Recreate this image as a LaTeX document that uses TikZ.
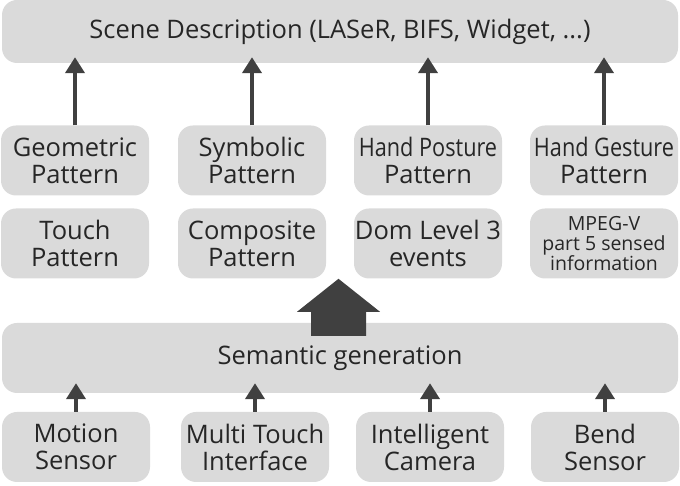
\documentclass[tikz,border=0pt]{standalone}
\usepackage{fontspec}
\usepackage{graphicx}
\setmainfont{Open Sans}
\usetikzlibrary{arrows.meta,positioning,calc}
\definecolor{cBox}{HTML}{dadada}
\definecolor{cArr}{HTML}{404040}
\definecolor{cTxt}{HTML}{262626}
\tikzset{
  bar/.style={rounded corners=15pt,fill=cBox,minimum width=676pt,inner sep=0pt,
              text=cTxt,font=\fontsize{25.5}{27}\selectfont},
  box/.style={rounded corners=15pt,fill=cBox,minimum width=148pt,minimum height=70pt,
              inner sep=0pt,align=center,text=cTxt,font=\fontsize{25.5}{27}\selectfont},
  finebox/.style={box,font=\fontsize{19.5}{20}\selectfont},
  uparrow/.style={-{Triangle[length=16pt,width=19pt]},line width=4pt,cArr},
}
\newcommand{\squeeze}[1]{\scalebox{.85}[1]{#1}}

\begin{document}
\begin{tikzpicture}[x=1pt,y=1pt]
  \useasboundingbox (0,0) rectangle (680,486);
  \node[bar,minimum height=63pt](scene) at (340,454.5){Scene Description (LASeR, BIFS, Widget, ...)};
  % pattern rows
  \node[box](geo) at (75,325.5){Geometric\\Pattern};
  \node[box](sym) at (252,325.5){Symbolic\\Pattern};
  \node[box](posture) at (428,325.5){\squeeze{Hand Posture}\\Pattern};
  \node[box](gesture) at (604,325.5){\squeeze{Hand Gesture}\\Pattern};
  \node[box](touch) at (75,242.5){Touch\\Pattern};
  \node[box](comp) at (252,242.5){Composite\\Pattern};
  \node[box](dom) at (428,242.5){Dom Level 3\\events};
  \node[finebox](mpeg) at (604,242.5){MPEG-V\\part 5 sensed\\information};
  \node[bar,minimum height=70pt](sem) at (340,128){Semantic generation};
  % sensors
  \node[box](motion) at (76,39){Motion\\Sensor};
  \node[box](multi) at (255,39){Multi Touch\\Interface};
  \node[box](camera) at (430,39){Intelligent\\Camera};
  \node[box](bend) at (605,39){Bend\\Sensor};
  \foreach \n in {geo,sym,posture,gesture}{
    \draw[uparrow] (\n.north) -- ($(\n.north |- scene.south)+(0,6)$);}
  \foreach \n in {motion,multi,camera,bend}{
    \draw[uparrow] (\n.north) -- ($(\n.north |- sem.south)+(0,10)$);}
  \fill[cArr] ($(sem.north)+(-29,-13)$) -- ($(sem.north)+(-29,11)$) -- ($(sem.north)+(-43,11)$)
    -- ($(sem.north)+(-1.5,44)$) -- ($(sem.north)+(40,11)$) -- ($(sem.north)+(26,11)$)
    -- ($(sem.north)+(26,-13)$) -- cycle;
\end{tikzpicture}
\end{document}
